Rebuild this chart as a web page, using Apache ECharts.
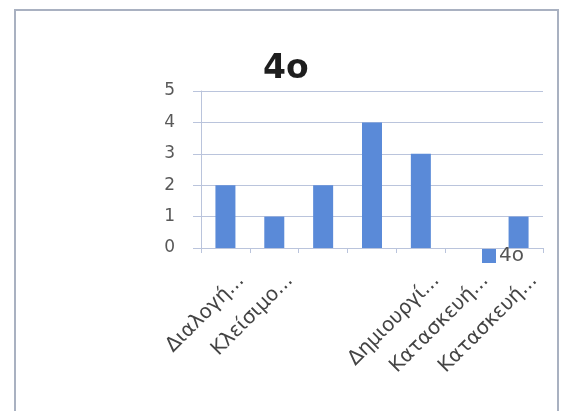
<!DOCTYPE html>
<html>
<head>
<meta charset="utf-8">
<script src="https://cdn.jsdelivr.net/npm/echarts@6/dist/echarts.min.js"></script>
<style>
  html, body { margin: 0; padding: 0; background: #fff; }
  #chart { width: 563px; height: 411px; }
</style>
</head>
<body>
<div id="chart"></div>
<script>
// categories as shown (some labels are not drawn in the original)
var categories = ['Διαλογή...', 'Κλείσιμο...', '', '', 'Δημιουργί...', 'Κατασκευή...', 'Κατασκευή...'];
var values4o = [2, 1, 2, 4, 3, 0, 1];
var yTicks = [0, 1, 2, 3, 4, 5];

var chart = echarts.init(document.getElementById('chart'));
var gridColor = '#bac4dc';

chart.setOption({
  animation: false,
  graphic: [{
    type: 'rect',
    z: -1,
    shape: { x: 15, y: 10, width: 543, height: 430 },
    style: { fill: 'none', stroke: '#a9b1c1', lineWidth: 2 }
  }],
  title: {
    text: '4o',
    left: 263,
    top: 53,
    padding: 0,
    textStyle: { fontFamily: 'DejaVu Sans', fontWeight: 'bold', fontSize: 33, color: '#1e1e1e' }
  },
  legend: {
    data: ['4o'],
    left: 482,
    top: 246,
    padding: 0,
    itemWidth: 14,
    itemHeight: 14,
    itemGap: 4,
    icon: 'rect',
    textStyle: { fontFamily: 'DejaVu Sans', fontSize: 20, color: '#555', padding: [0, 0, 0, -2] }
  },
  grid: { left: 201, right: 20, top: 91, bottom: 163 },
  xAxis: {
    type: 'category',
    data: categories,
    boundaryGap: true,
    axisLine: { lineStyle: { color: gridColor, width: 1 } },
    axisTick: { show: true, length: 5, lineStyle: { color: gridColor } },
    axisLabel: {
      interval: 0,
      rotate: 45,
      margin: 14,
      verticalAlign: 'top',
      lineHeight: 44,
      fontFamily: 'DejaVu Sans',
      fontSize: 20,
      color: '#444'
    }
  },
  yAxis: {
    type: 'value',
    min: yTicks[0],
    max: yTicks[yTicks.length - 1],
    interval: 1,
    axisLine: { show: true, lineStyle: { color: gridColor } },
    axisTick: { show: true, length: 8, lineStyle: { color: gridColor } },
    splitLine: { lineStyle: { color: gridColor } },
    axisLabel: { margin: 26, fontFamily: 'DejaVu Sans', fontSize: 17, color: '#595959' }
  },
  series: [{
    name: '4o',
    type: 'bar',
    data: values4o,
    barWidth: 20,
    itemStyle: { color: '#5a8ad8' }
  }]
});
</script>
</body>
</html>
